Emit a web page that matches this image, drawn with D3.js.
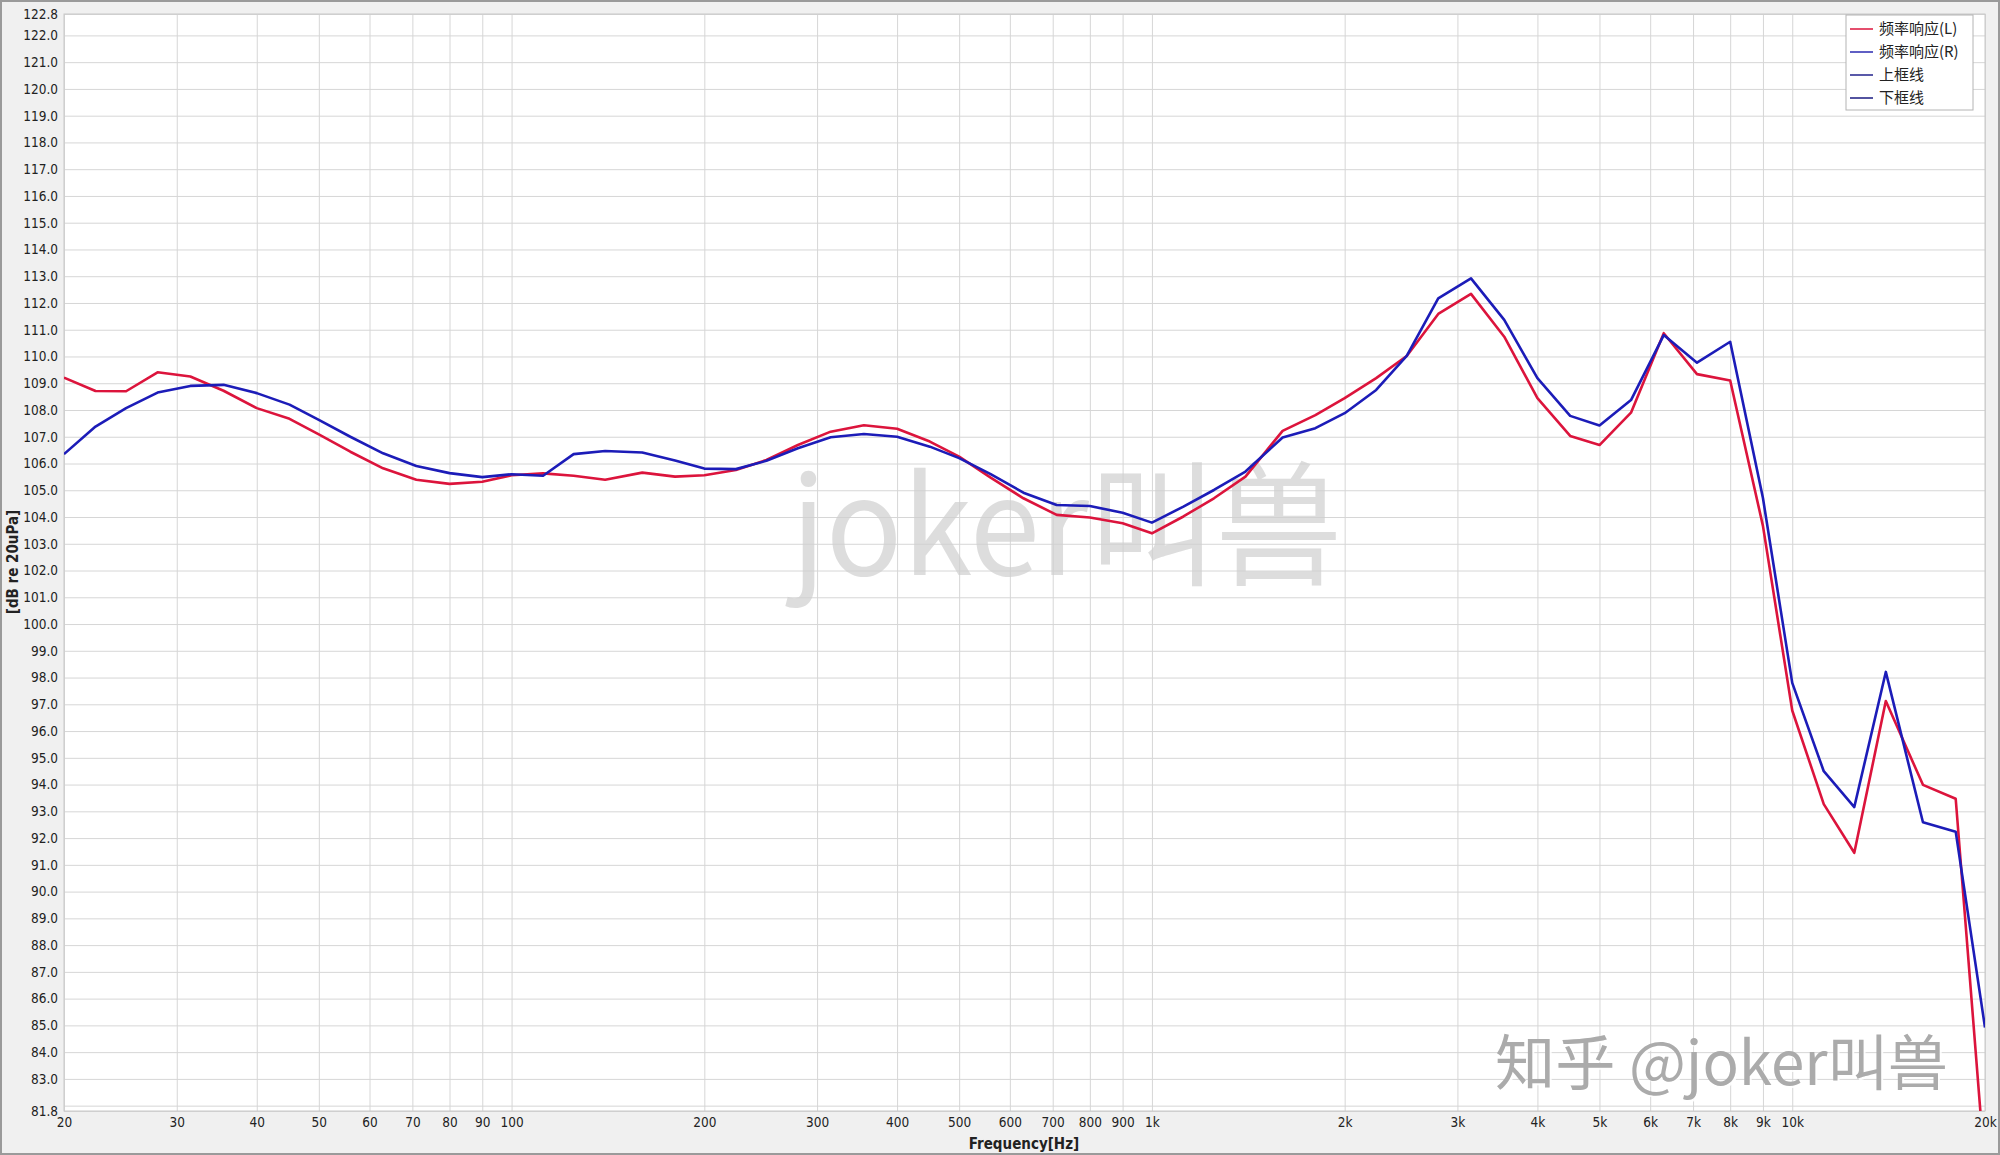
<!DOCTYPE html>
<html><head><meta charset="utf-8">
<script src="https://cdn.jsdelivr.net/npm/d3@7"></script>
<style>
html,body{margin:0;padding:0;background:#f0f0f0;}
svg{display:block;}
</style></head>
<body>
<svg id="chart" width="2000" height="1155"></svg>
<script>
const freqs = [20, 22.4, 25, 28, 31.5, 35.5, 40, 45, 50, 56, 63, 71, 80, 90, 100, 112, 125, 140, 160, 180, 200, 224, 250, 280, 315, 355, 400, 450, 500, 560, 630, 710, 800, 900, 1000, 1120, 1250, 1400, 1600, 1800, 2000, 2240, 2500, 2800, 3150, 3550, 4000, 4500, 5000, 5600, 6300, 7100, 8000, 9000, 10000, 11200, 12500, 14000, 16000, 18000, 20000];
const splL = [109.21, 108.71, 108.7, 109.41, 109.25, 108.72, 108.07, 107.67, 107.09, 106.44, 105.82, 105.39, 105.24, 105.32, 105.56, 105.63, 105.54, 105.39, 105.66, 105.51, 105.56, 105.76, 106.13, 106.69, 107.19, 107.43, 107.3, 106.82, 106.26, 105.47, 104.7, 104.08, 103.98, 103.77, 103.39, 104.02, 104.7, 105.51, 107.22, 107.81, 108.44, 109.19, 110.02, 111.59, 112.34, 110.74, 108.44, 107.03, 106.69, 107.9, 110.87, 109.34, 109.1, 103.67, 96.77, 93.27, 91.45, 97.12, 93.99, 93.47, 79.6];
const splR = [106.35, 107.38, 108.07, 108.65, 108.9, 108.94, 108.63, 108.2, 107.63, 107.0, 106.38, 105.91, 105.64, 105.49, 105.6, 105.54, 106.35, 106.47, 106.41, 106.11, 105.81, 105.79, 106.1, 106.57, 106.98, 107.1, 107.0, 106.63, 106.2, 105.6, 104.91, 104.45, 104.41, 104.16, 103.79, 104.39, 105.01, 105.7, 106.97, 107.32, 107.88, 108.75, 110.02, 112.17, 112.92, 111.37, 109.19, 107.78, 107.42, 108.37, 110.8, 109.77, 110.55, 104.71, 97.8, 94.5, 93.16, 98.21, 92.59, 92.24, 84.92];
const xGridValues = [20,30,40,50,60,70,80,90,100,200,300,400,500,600,700,800,900,1000,2000,3000,4000,5000,6000,7000,8000,9000,10000,20000];
const xTickLabels = ["20","30","40","50","60","70","80","90","100","200","300","400","500","600","700","800","900","1k","2k","3k","4k","5k","6k","7k","8k","9k","10k","20k"];
const yGridValues = [81.8].concat(d3.range(82, 123, 1), [122.8]);
const yTickLabels = [81.8].concat(d3.range(83, 123, 1), [122.8]);
const legendNames = ["频率响应(L)", "频率响应(R)", "上框线", "下框线"];
const legendColors = ["#dc143c", "#2a2ab0", "#22228c", "#1a1a80"];

const svg = d3.select("#chart");
const W = 2000, H = 1155;
const m = {left: 64, right: 2000 - 1985, top: 14, bottom: 1155 - 1111};
const pw = W - m.left - m.right, ph = H - m.top - m.bottom;
const tickFont = "'DejaVu Sans Condensed', 'DejaVu Sans', sans-serif";

// outer background + frame
svg.append("rect").attr("x",0).attr("y",0).attr("width",W).attr("height",H).attr("fill","#f0f0f0");
svg.append("rect").attr("x",1).attr("y",1).attr("width",W-2).attr("height",H-2).attr("fill","none").attr("stroke","#9a9a9a").attr("stroke-width",2);

const x = d3.scaleLog().domain([20, 20000]).range([m.left, m.left + pw]);
const y = d3.scaleLinear().domain([81.8, 122.8]).range([m.top + ph, m.top]);

svg.append("rect").attr("x", m.left).attr("y", m.top).attr("width", pw).attr("height", ph).attr("fill", "#ffffff");

// grid
const gx = svg.append("g").attr("transform", `translate(0,${m.top})`)
  .call(d3.axisBottom(x).tickValues(xGridValues).tickSize(ph).tickFormat(""));
gx.select(".domain").remove();
gx.selectAll("line").attr("stroke", "#d6d6d6").attr("stroke-width", 1);

const gy = svg.append("g").attr("transform", `translate(${m.left},0)`)
  .call(d3.axisRight(y).tickValues(yGridValues).tickSize(pw).tickFormat(""));
gy.select(".domain").remove();
gy.selectAll("line").attr("stroke", "#d6d6d6").attr("stroke-width", 1);

// plot border
svg.append("rect").attr("x", m.left).attr("y", m.top).attr("width", pw).attr("height", ph)
  .attr("fill", "none").attr("stroke", "#c8c8c8").attr("stroke-width", 1);

// tick labels
const ax = svg.append("g").attr("transform", `translate(0,${m.top + ph})`)
  .call(d3.axisBottom(x).tickValues(xGridValues).tickSize(0).tickPadding(6)
    .tickFormat((d, i) => xTickLabels[i]));
ax.select(".domain").remove();
ax.selectAll("text").attr("font-family", tickFont).attr("font-size", 13.5).attr("fill", "#222");

const ay = svg.append("g").attr("transform", `translate(${m.left},0)`)
  .call(d3.axisLeft(y).tickValues(yTickLabels).tickSize(0).tickPadding(6)
    .tickFormat(d3.format(".1f")));
ay.select(".domain").remove();
ay.selectAll("text").attr("font-family", tickFont).attr("font-size", 13.5).attr("fill", "#222");

// axis titles
svg.append("text").attr("x", 1024).attr("y", 1149).attr("text-anchor", "middle")
  .attr("font-family", tickFont).attr("font-weight", "bold")
  .attr("font-size", 15).attr("fill", "#222").text("Frequency[Hz]");
svg.append("text").attr("transform", "translate(18,562) rotate(-90)").attr("text-anchor", "middle")
  .attr("font-family", tickFont).attr("font-weight", "bold")
  .attr("font-size", 15).attr("fill", "#222").text("[dB re 20uPa]");

// center watermark
svg.append("text").attr("x", 791).attr("y", 575)
  .attr("font-family", "'Noto Sans CJK SC', sans-serif").attr("font-size", 135)
  .attr("textLength", 551).attr("lengthAdjust", "spacingAndGlyphs")
  .attr("fill", "#cfcfcf").attr("fill-opacity", 0.7).text("joker叫兽");

// clip
svg.append("defs").append("clipPath").attr("id", "plotclip").append("rect")
  .attr("x", m.left).attr("y", m.top).attr("width", pw).attr("height", ph);

const line = d3.line().x(d => x(d[0])).y(d => y(d[1]));
const series = [
  {vals: splL, color: "#dc143c"},
  {vals: splR, color: "#1c1cb8"}
];
const gl = svg.append("g").attr("clip-path", "url(#plotclip)");
series.forEach(s => {
  gl.append("path").datum(freqs.map((f, i) => [f, s.vals[i]]))
    .attr("d", line).attr("fill", "none").attr("stroke", s.color)
    .attr("stroke-width", 2.6).attr("stroke-linejoin", "round");
});

// bottom-right watermark
const wm = "知乎 @joker叫兽";
svg.append("text").attr("x", 1497).attr("y", 1087)
  .attr("font-family", "'Noto Sans CJK SC', sans-serif").attr("font-size", 60)
  .attr("textLength", 453).attr("lengthAdjust", "spacingAndGlyphs")
  .attr("fill", "#ffffff").attr("opacity", 0.9).text(wm);
svg.append("text").attr("x", 1495).attr("y", 1085)
  .attr("font-family", "'Noto Sans CJK SC', sans-serif").attr("font-size", 60)
  .attr("textLength", 453).attr("lengthAdjust", "spacingAndGlyphs")
  .attr("fill", "#ababab").text(wm);

// legend
const lg = svg.append("g");
lg.append("rect").attr("x", 1846).attr("y", 15).attr("width", 127).attr("height", 95)
  .attr("fill", "#ffffff").attr("stroke", "#b4b4b4").attr("stroke-width", 1);
legendNames.forEach((n, i) => {
  const yy = 29 + i * 23;
  lg.append("line").attr("x1", 1850).attr("x2", 1873).attr("y1", yy).attr("y2", yy)
    .attr("stroke", legendColors[i]).attr("stroke-width", 1.5);
  lg.append("text").attr("x", 1879).attr("y", yy + 5)
    .attr("font-family", "'Noto Sans CJK SC', sans-serif").attr("font-size", 15)
    .attr("fill", "#222").text(n);
});
</script>
</body></html>
